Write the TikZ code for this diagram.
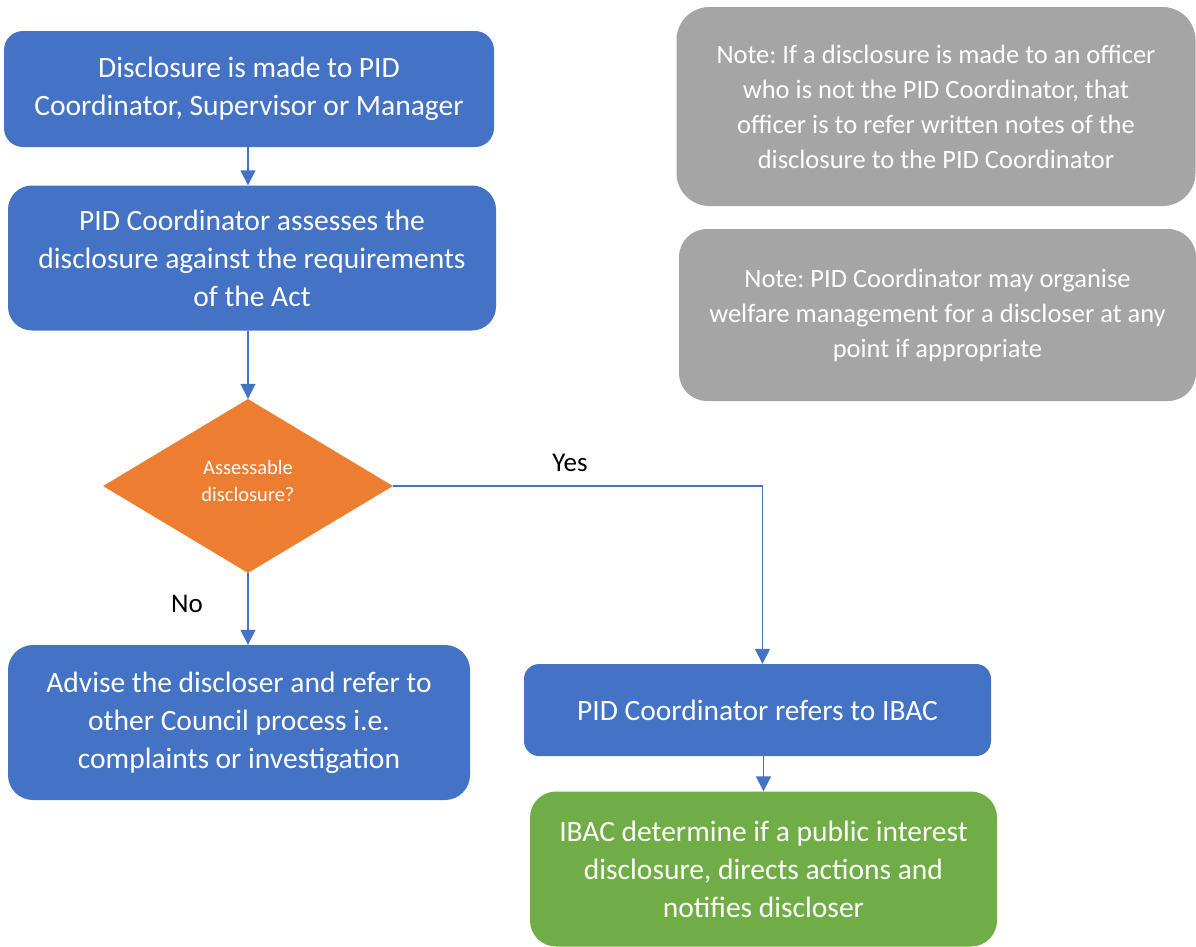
\documentclass[tikz,border=0pt]{standalone}
\usepackage{fontspec}
\setmainfont{Carlito}
\frenchspacing
\usetikzlibrary{shapes.geometric,arrows.meta}
\definecolor{oblue}{HTML}{4472C4}
\definecolor{oorange}{HTML}{ED7D31}
\definecolor{ogray}{HTML}{A5A5A5}
\definecolor{ogreen}{HTML}{70AD47}
\tikzset{
  box/.style={fill=#1, draw=none, text=white, align=center, inner sep=0pt,
    font=\fontsize{29.5}{38}\selectfont},
  note/.style={fill=ogray, draw=none, text=white, align=center, inner sep=0pt,
    font=\fontsize{26.5}{35}\selectfont},
  arr/.style={draw=oblue, line width=1.5pt, -{Triangle[width=15pt,length=15pt]}},
  lbl/.style={text=black, font=\fontsize{27}{33}\selectfont, inner sep=0pt}
}
\begin{document}
\begin{tikzpicture}[x=1pt,y=-1pt]
\useasboundingbox[fill=white] (0,0) rectangle (1196,946);
% main boxes
\node[box=oblue, minimum width=490pt, minimum height=116pt, rounded corners=19pt] (b1) at (249,89)
  {Disclosure is made to PID\\Coordinator, Supervisor or Manager};
\node[box=oblue, minimum width=488pt, minimum height=145pt, rounded corners=24pt] (b2) at (252,258)
  {PID Coordinator assesses the\\disclosure against the requirements\\of the Act};
\node[diamond, fill=oorange, draw=none, inner sep=0pt,
  minimum width=290pt, minimum height=174pt] (d) at (248,486) {};
\node[text=white, align=center, inner sep=0pt, font=\fontsize{20.5}{27.5}\selectfont]
  (dt) at ([yshift=5pt]d.center) {Assessable\\disclosure?};
\node[box=oblue, minimum width=462pt, minimum height=155pt, rounded corners=25pt] (b3) at (239,722.5)
  {Advise the discloser and refer to\\other Council process i.e.\\complaints or investigation};
\node[box=oblue, minimum width=467pt, minimum height=92pt, rounded corners=15pt] (b4) at (757.5,710)
  {PID Coordinator refers to IBAC};
\node[box=ogreen, minimum width=467pt, minimum height=155pt, rounded corners=26pt] (b5) at (763.5,869)
  {IBAC determine if a public interest\\disclosure, directs actions and\\notifies discloser};
% notes
\node[note, minimum width=519pt, minimum height=199pt, rounded corners=33pt] (g1) at (936,106.5)
  {Note: If a disclosure is made to an officer\\who is not the PID Coordinator, that\\officer is to refer written notes of the\\disclosure to the PID Coordinator};
\node[note, minimum width=517pt, minimum height=172pt, rounded corners=28pt] (g2) at (937.5,315)
  {Note: PID Coordinator may organise\\welfare management for a discloser at any\\point if appropriate};
% connectors
\draw[arr] (b1.south -| d.north) -- (b2.north -| d.north);
\draw[arr] (b2.south -| d.north) -- (d.north);
\draw[arr] (d.south) -- (d.south |- b3.north);
\draw[arr] (d.east) -| ([xshift=5pt]b4.north);
\draw[arr] (b5.north |- b4.south) -- (b5.north);
% labels
\node[lbl, anchor=base] (yes) at (570,471) {Yes};
\node[lbl, anchor=base] (no) at (187,612) {No};
\end{tikzpicture}
\end{document}
